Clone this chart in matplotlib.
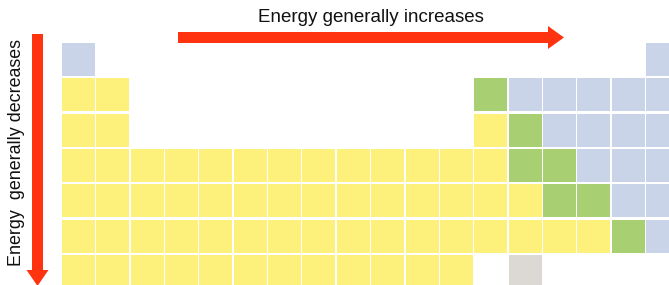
import matplotlib
matplotlib.use("Agg")
import matplotlib.pyplot as plt
from matplotlib.patches import Rectangle, FancyArrow

# cell categories per period (row), one character per group (column)
# Y = yellow, G = green, B = blue, X = grey, . = empty
periods = [
    "B................B",
    "YY..........GBBBBB",
    "YY..........YGBBBB",
    "YYYYYYYYYYYYYGGBBB",
    "YYYYYYYYYYYYYYGGBB",
    "YYYYYYYYYYYYYYYYGB",
    "YYYYYYYYYYYY.X....",
]
colors = {"Y": "#fdf17c", "G": "#a9cf73", "B": "#c9d4e8", "X": "#dcd9d4"}
top_label = "Energy generally increases"
side_label = "Energy  generally decreases"

RED = "#ff3310"
W, H = 669, 285
X0, Y0 = 62, 43          # top-left of first cell, px
PX, PY = 34.35, 35.3     # pitch
CW, CH = 33, 33          # cell size

fig = plt.figure(figsize=(W / 100, H / 100), dpi=100)
ax = fig.add_axes([0, 0, 1, 1])
ax.set_xlim(0, W)
ax.set_ylim(H, 0)
ax.axis("off")

for r, row in enumerate(periods):
    for c, code in enumerate(row):
        if code == ".":
            continue
        ax.add_patch(Rectangle((X0 + c * PX, Y0 + r * PY), CW, CH,
                               facecolor=colors[code], edgecolor="none"))

# horizontal arrow
ax.add_patch(FancyArrow(178, 37.5, 370, 0, width=11, head_width=23,
                        head_length=16, length_includes_head=False,
                        color=RED, lw=0))
ax.text(370.5, 17.5, top_label, ha="center", va="center", fontsize=13.5,
        family="Liberation Sans", color="#111111")

# vertical arrow
ax.add_patch(FancyArrow(37.5, 34, 0, 236, width=11, head_width=22,
                        head_length=16, length_includes_head=False,
                        color=RED, lw=0))
ax.text(16.5, 152.5, side_label, ha="center", va="center", rotation=90,
        fontsize=12.9, family="Liberation Sans", color="#111111")

fig.savefig("out.png", dpi=100)
